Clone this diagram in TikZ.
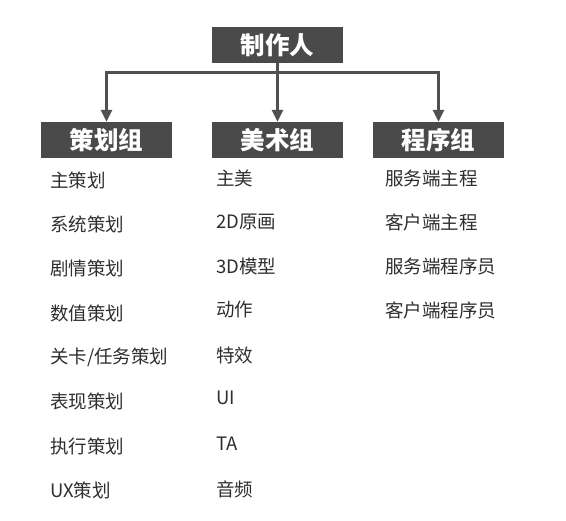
\documentclass[tikz,border=0pt]{standalone}
\usepackage{fontspec}
\setmainfont{Noto Sans CJK SC}
\usetikzlibrary{arrows.meta}
\definecolor{boxfill}{HTML}{4A4A4A}
\definecolor{linecol}{HTML}{505050}
\definecolor{txt}{HTML}{2E2E2E}
\begin{document}
\begin{tikzpicture}[x=1pt,y=-1pt,
  headbox/.style={fill=boxfill,text=white,minimum width=131pt,minimum height=36pt,inner sep=0pt,font=\fontsize{24.5}{27}\selectfont\bfseries},
  conn/.style={draw=linecol,line width=3pt,-{Triangle[length=12pt,width=11pt]}},
  item/.style={anchor=west,inner sep=0pt,text=txt,font=\fontsize{18.5}{21}\selectfont}]
\useasboundingbox (0,0) rectangle (566,521);
\node[headbox] (top) at (277.5,45) {制作人};
\node[headbox] (g1) at (106.5,140) {策划组};
\node[headbox] (g2) at (277.5,140) {美术组};
\node[headbox] (g3) at (438.5,140) {程序组};
\coordinate (j) at (277.5,73);
\draw[conn] (top.south) -- (g2.north);
\draw[conn] (j) -| (g1.north);
\draw[conn] (j) -| (g3.north);
% left column
\node[item] (a1) at (50,180) {主策划};
\node[item] (a2) at (50,224.5) {系统策划};
\node[item] (a3) at (50,268.5) {剧情策划};
\node[item] (a4) at (50,313) {数值策划};
\node[item] (a5) at (50,357) {关卡/任务策划};
\node[item] (a6) at (50,401) {表现策划};
\node[item] (a7) at (50,446) {执行策划};
\node[item] (a8) at (50,490) {UX策划};
% middle column
\node[item] (b1) at (216,178) {主美};
\node[item] (b2) at (216,222) {2D原画};
\node[item] (b3) at (216,266) {3D模型};
\node[item] (b4) at (216,310) {动作};
\node[item] (b5) at (216,355) {特效};
\node[item] (b6) at (216,398) {UI};
\node[item] (b7) at (216,444) {TA};
\node[item] (b8) at (216,489) {音频};
% right column
\node[item] (c1) at (385,178) {服务端主程};
\node[item] (c2) at (385,222) {客户端主程};
\node[item] (c3) at (385,266) {服务端程序员};
\node[item] (c4) at (385,310) {客户端程序员};
\end{tikzpicture}
\end{document}
